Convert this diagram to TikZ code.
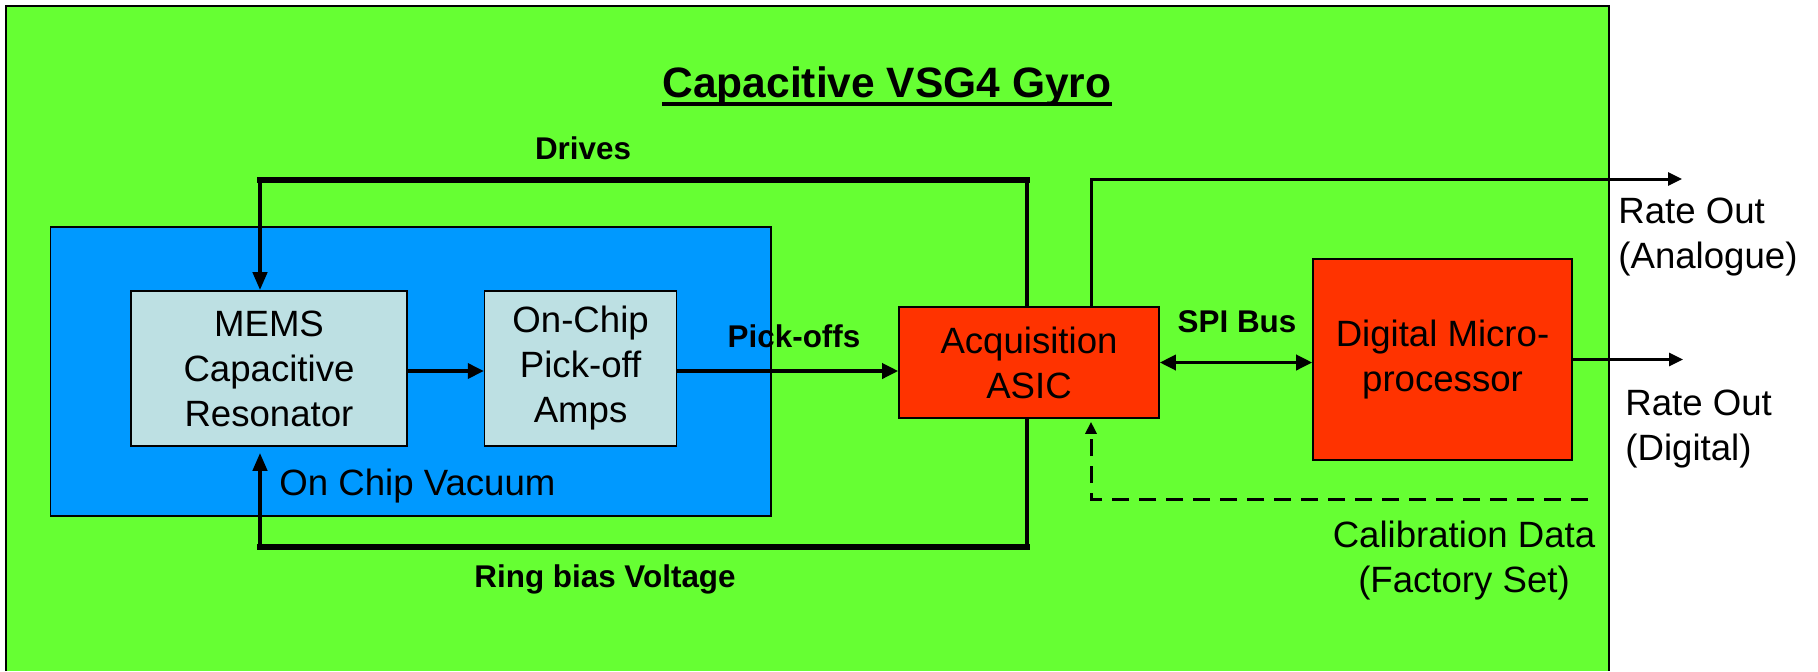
\documentclass[tikz,border=0pt]{standalone}
\usepackage{fontspec}
\setmainfont{Liberation Sans}
\usepackage{tikz}
\usetikzlibrary{positioning,arrows.meta,calc}
\definecolor{bggreen}{HTML}{66FF33}
\definecolor{chipblue}{HTML}{0099FF}
\definecolor{partblue}{HTML}{BDE0E3}
\definecolor{asicred}{HTML}{FF3300}
\newcommand\bodyfont{\fontsize{18.3}{22.5}\selectfont}
\newcommand\lblfont{\fontsize{15.7}{19}\selectfont\bfseries}
\newcommand\headfont{\fontsize{21.25}{25}\selectfont\bfseries}
\tikzset{
  chip/.style={draw,fill=chipblue,line width=0.8pt,inner sep=0pt},
  part/.style={draw,fill=partblue,line width=0.8pt,align=center,inner sep=0pt,font=\bodyfont},
  asic/.style={draw,fill=asicred,line width=0.8pt,align=center,inner sep=0pt,font=\bodyfont},
  txt/.style={inner sep=0pt,font=\bodyfont},
  lbl/.style={inner sep=0pt,anchor=base,font=\lblfont},
  thickbar/.style={line width=3pt,line cap=rect},
  feed/.style={line width=2pt},
  sig/.style={line width=1.75pt,-{Triangle[length=8pt,width=7.5pt]}},
  outln/.style={line width=1.5pt,-{Triangle[length=7pt,width=6.5pt]}},
}
\begin{document}
\begin{tikzpicture}[x=0.5pt,y=-0.5pt]
  \useasboundingbox[fill=white] (0,0) rectangle (1818,671);
  % frame
  \fill[bggreen] (6,6) rectangle (1609,671);
  \draw[line width=0.6pt] (6,671) -- (6,6) -- (1609,6) -- (1609,671);
  \node[font=\headfont,inner sep=0pt,anchor=base] (title) at (887,97) {Capacitive VSG4 Gyro};
  \draw[line width=2pt] ([yshift=-3.5pt]title.base west) -- ([yshift=-3.5pt]title.base east);
  % blocks
  \node[chip,minimum width=360.25pt,minimum height=144.5pt] (vac) at (410.75,371.5) {};
  \node[part,minimum width=138pt,minimum height=77.5pt] (mems) at (269,368.5) {MEMS\\Capacitive\\Resonator};
  \node[part,minimum width=96pt,minimum height=77.5pt,right=38pt of mems] (amps) {On-Chip\\Pick-off\\Amps};
  \node[txt,anchor=base west] (vaclbl) at (279,495) {On Chip Vacuum};
  \node[asic,minimum width=130pt,minimum height=55.5pt] (acq) at (1029,362.5) {Acquisition\\ASIC};
  \node[asic,minimum width=129.5pt,minimum height=100.5pt] (dmp) at (1442.5,359.5) {Digital Micro-\\processor};
  % labels
  \node[lbl] (drv) at (583,159) {Drives};
  \node[lbl] (pko) at (794,347) {Pick-offs};
  \node[lbl] (spi) at (1237,332) {SPI Bus};
  \node[lbl] (rbv) at (605,587) {Ring bias Voltage};
  \node[txt,align=left,anchor=west] (rao) at (1618,237) {Rate Out\\(Analogue)};
  \node[txt,align=left,anchor=west] (rdo) at (1625,429) {Rate Out\\(Digital)};
  \node[txt,align=center] (cal) at (1464,561) {Calibration Data\\(Factory Set)};
  % drives loop
  \coordinate (dl) at (260,180);
  \coordinate (dr) at (1027,180);
  \draw[thickbar] (dl) -- (dr);
  \draw[feed,-{Triangle[length=9pt,width=7pt]}] (dl) -- (dl |- mems.north);
  \draw[feed] (dr) -- (dr |- acq.north);
  % ring bias loop
  \coordinate (bl) at (260,547);
  \coordinate (br) at (1027,547);
  \draw[thickbar] (bl) -- (br);
  \draw[feed] (br |- acq.south) -- (br);
  \draw[feed,-{Triangle[length=9pt,width=7pt]},shorten >=3pt] (bl) -- (bl |- mems.south);
  % signal path
  \coordinate (sp) at (0,371);
  \draw[sig] (mems.east |- sp) -- (amps.west |- sp);
  \draw[sig] (amps.east |- sp) -- (acq.west |- sp);
  \draw[sig,{Triangle[length=8pt,width=7.5pt]}-{Triangle[length=8pt,width=7.5pt]}] (acq.east) -- (acq.east -| dmp.west);
  % outputs
  \coordinate (ra) at (1091,179);
  \coordinate (rat) at (1682,179);
  \draw[outln] (ra |- acq.north) -- (ra) -- (rat);
  \coordinate (rdt) at (1683,0);
  \draw[outln] (dmp.east) -- (dmp.east -| rdt);
  % calibration
  \coordinate (cd) at (1588,499);
  \draw[line width=1.5pt,dash pattern=on 8.5pt off 5pt,-{Triangle[length=6pt,width=5.5pt]},shorten >=1.5pt]
    (cd) -- (cd -| ra) -- (ra |- acq.south);
\end{tikzpicture}
\end{document}
